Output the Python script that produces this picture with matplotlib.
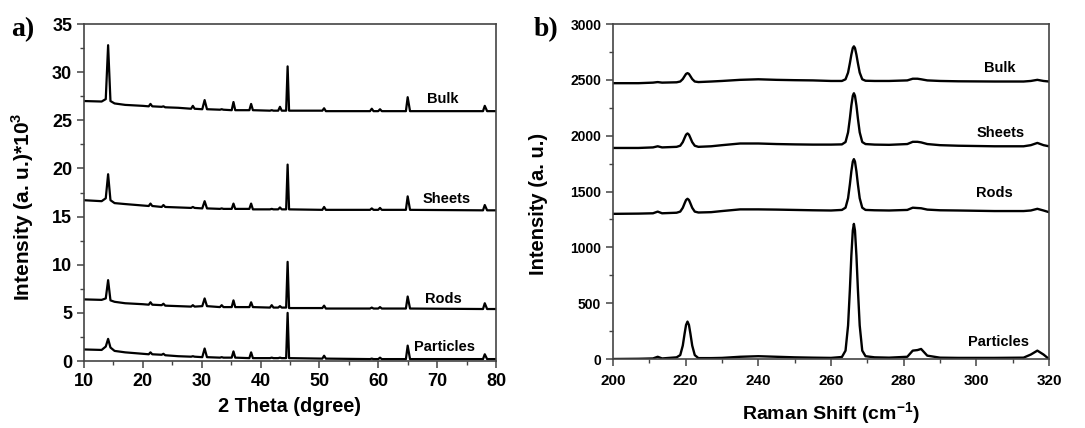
import numpy as np
import matplotlib
matplotlib.use("Agg")
import matplotlib.pyplot as plt
from matplotlib.ticker import MultipleLocator

plt.rcParams['font.family'] = ['Liberation Sans', 'DejaVu Sans']
plt.rcParams['font.weight'] = 'bold'
plt.rcParams['mathtext.fontset'] = 'custom'
plt.rcParams['mathtext.rm'] = 'Liberation Sans:bold'
plt.rcParams['mathtext.bf'] = 'Liberation Sans:bold'

# XRD-Daten (2 Theta, Intensität *10^3)
xrd_x = [10, 13.0, 13.7, 14.1, 14.5, 15.2, 17, 20, 21.0, 21.3, 21.6, 23.2, 23.5, 23.8,
         26, 28.2, 28.5, 28.8, 30.1, 30.5, 30.9, 33.1, 33.4, 33.7, 35.1, 35.4, 35.7,
         38.1, 38.4, 38.7, 41.6, 41.9, 42.2, 43.0, 43.3, 43.6, 44.35, 44.6, 44.85,
         50.5, 50.8, 51.1, 58.6, 58.9, 59.2, 60.0, 60.3, 60.6, 64.7, 65.0, 65.4,
         77.8, 78.1, 78.5, 80]
xrd_bulk = [27.0, 26.95, 27.2, 32.8, 27.0, 26.75, 26.6, 26.5, 26.45, 26.7, 26.45, 26.4, 26.45, 26.35,
            26.3, 26.2, 26.5, 26.2, 26.15, 27.1, 26.15, 26.1, 26.15, 26.1, 26.05, 26.9, 26.05,
            26.05, 26.7, 26.05, 26.0, 26.05, 26.0, 26.0, 26.4, 26.0, 26.0, 30.6, 26.0,
            26.0, 26.25, 25.95, 25.95, 26.2, 25.95, 25.95, 26.15, 25.95, 25.95, 27.4, 25.95,
            25.95, 26.5, 25.95, 25.95]
xrd_sheets = [16.7, 16.6, 16.9, 19.4, 16.7, 16.4, 16.3, 16.15, 16.1, 16.35, 16.1, 16.0, 16.2, 16.0,
              15.95, 15.9, 16.0, 15.9, 15.85, 16.6, 15.85, 15.8, 15.85, 15.8, 15.8, 16.35, 15.8,
              15.8, 16.35, 15.75, 15.75, 15.8, 15.75, 15.75, 15.95, 15.75, 15.75, 20.4, 15.75,
              15.7, 16.0, 15.7, 15.7, 15.85, 15.7, 15.7, 15.9, 15.7, 15.7, 17.1, 15.7,
              15.65, 16.2, 15.65, 15.65]
xrd_rods = [6.4, 6.35, 6.5, 8.4, 6.3, 6.15, 6.0, 5.9, 5.85, 6.1, 5.85, 5.8, 5.95, 5.75,
            5.7, 5.65, 5.8, 5.65, 5.7, 6.5, 5.7, 5.6, 5.8, 5.6, 5.6, 6.3, 5.6,
            5.6, 6.1, 5.6, 5.55, 5.8, 5.55, 5.55, 5.7, 5.55, 5.55, 10.3, 5.5,
            5.5, 5.75, 5.45, 5.45, 5.55, 5.45, 5.45, 5.6, 5.45, 5.45, 6.7, 5.45,
            5.4, 6.0, 5.4, 5.4]
xrd_particles = [1.2, 1.15, 1.5, 2.3, 1.4, 1.05, 0.9, 0.75, 0.7, 0.9, 0.7, 0.65, 0.75, 0.6,
                 0.5, 0.45, 0.5, 0.45, 0.4, 1.3, 0.4, 0.35, 0.4, 0.35, 0.35, 1.0, 0.35,
                 0.3, 0.9, 0.3, 0.3, 0.35, 0.3, 0.3, 0.35, 0.3, 0.3, 5.0, 0.3,
                 0.25, 0.55, 0.25, 0.2, 0.25, 0.2, 0.2, 0.35, 0.2, 0.2, 1.6, 0.2,
                 0.2, 0.7, 0.2, 0.2]

# Raman-Daten (cm^-1, a. u.)
raman_x = [200, 207, 211, 212.3, 213.5, 217.5,
           218.5, 219.2, 219.7, 220.1, 220.5, 220.9, 221.3, 221.8, 222.5, 223.5,
           227, 230, 235, 240, 245, 250, 255, 260,
           263.0, 264.0, 264.7, 265.2, 265.6, 266.0, 266.3, 266.6, 267.0, 267.4, 267.9, 268.6, 269.5,
           272, 276, 281, 282.5, 283.8, 284.8, 286.5, 290, 295, 305, 313, 315, 316.8, 318.5, 320]
raman_bulk = [2470, 2470, 2475, 2480, 2475, 2478,
              2485, 2507, 2533, 2553, 2560, 2553, 2533, 2507, 2485, 2480,
              2485, 2490, 2500, 2505, 2500, 2497, 2495, 2490,
              2490, 2505, 2565, 2650, 2725, 2785, 2800, 2785, 2725, 2650, 2565, 2505, 2492,
              2490, 2490, 2495, 2510, 2510, 2505, 2495, 2490, 2487, 2485, 2485, 2490, 2500, 2490, 2485]
raman_sheets = [1890, 1890, 1895, 1905, 1895, 1900,
                1910, 1942, 1980, 2009, 2020, 2009, 1980, 1942, 1910, 1900,
                1905, 1915, 1930, 1930, 1925, 1922, 1920, 1920,
                1922, 1943, 2030, 2155, 2270, 2357, 2380, 2357, 2270, 2155, 2030, 1943, 1925,
                1920, 1918, 1925, 1945, 1945, 1940, 1925, 1915, 1910, 1905, 1905, 1915, 1935, 1915, 1905]
raman_rods = [1300, 1302, 1305, 1320, 1305, 1310,
              1320, 1354, 1394, 1424, 1435, 1424, 1394, 1354, 1320, 1312,
              1315, 1325, 1340, 1340, 1338, 1335, 1332, 1330,
              1335, 1355, 1440, 1565, 1680, 1768, 1790, 1768, 1680, 1565, 1440, 1355, 1335,
              1332, 1330, 1335, 1355, 1352, 1350, 1338, 1332, 1330, 1325, 1325, 1330, 1345, 1330, 1315]
raman_particles = [0, 2, 5, 20, 5, 15,
                   35, 120, 227, 305, 335, 305, 227, 120, 35, 8,
                   8, 10, 20, 25, 20, 15, 12, 10,
                   18, 75, 300, 625, 925, 1150, 1210, 1150, 925, 625, 300, 75, 25,
                   15, 12, 20, 75, 80, 90, 30, 12, 10, 10, 12, 40, 75, 40, 0]

names = ["Bulk", "Sheets", "Rods", "Particles"]
xrd_label_pos = [(71.0, 27.2), (71.7, 16.8), (71.0, 6.4), (71.3, 1.45)]
raman_label_pos = [(306.5, 2610), (306.8, 2025), (305.1, 1485), (306.2, 150)]

fig = plt.figure(figsize=(10.85, 4.28), dpi=100)
ax1 = fig.add_axes([0.0774, 0.1565, 0.3797, 0.7874])
ax2 = fig.add_axes([0.565, 0.1612, 0.4018, 0.7827])

# a) XRD
for y in [xrd_bulk, xrd_sheets, xrd_rods, xrd_particles]:
    ax1.plot(xrd_x, y, color="black", lw=1.6)
for name, (tx, ty) in zip(names, xrd_label_pos):
    ax1.text(tx, ty, name, ha="center", va="center", fontsize=10.5, fontweight="bold")
ax1.set_xlim(10, 80)
ax1.set_ylim(0, 35)
ax1.xaxis.set_major_locator(MultipleLocator(10))
ax1.xaxis.set_minor_locator(MultipleLocator(5))
ax1.yaxis.set_major_locator(MultipleLocator(5))
ax1.yaxis.set_minor_locator(MultipleLocator(2.5))
ax1.tick_params(labelsize=13)
ax1.set_xlabel("2 Theta (dgree)", fontsize=14.3, fontweight="bold")
ax1.set_ylabel(r"Intensity (a. u.)*10$^{3}$", fontsize=15, fontweight="bold")
ax1.yaxis.set_label_coords(-0.117, 0.457)
ax1.xaxis.set_label_coords(0.5, -0.107)

# b) Raman
for y in [raman_bulk, raman_sheets, raman_rods, raman_particles]:
    ax2.plot(raman_x, y, color="black", lw=1.7)
for name, (tx, ty) in zip(names, raman_label_pos):
    ax2.text(tx, ty, name, ha="center", va="center", fontsize=10.5, fontweight="bold")
ax2.set_xlim(200, 320)
ax2.set_ylim(0, 3000)
ax2.xaxis.set_major_locator(MultipleLocator(20))
ax2.xaxis.set_minor_locator(MultipleLocator(10))
ax2.yaxis.set_major_locator(MultipleLocator(500))
ax2.yaxis.set_minor_locator(MultipleLocator(250))
ax2.tick_params(labelsize=10)
ax2.tick_params(axis="x", labelsize=11, pad=6)
ax2.set_xlabel(r"Raman Shift (cm$^{-1}$)", fontsize=14, fontweight="bold")
ax2.set_ylabel("Intensity (a. u.)", fontsize=14.5, fontweight="bold")
ax2.yaxis.set_label_coords(-0.149, 0.463)
ax2.xaxis.set_label_coords(0.5, -0.125)

for ax in [ax1, ax2]:
    for s in ax.spines.values():
        s.set_color("#444444")
        s.set_linewidth(1.2)
    ax.tick_params(which="major", direction="out", length=5, width=1.1, color="#444444")
    ax.tick_params(which="minor", direction="out", length=3, width=1.0, color="#444444")

fig.text(0.021, 0.93, "a)", fontsize=20, fontweight="bold", family="Liberation Serif",
         ha="center", va="center")
fig.text(0.503, 0.93, "b)", fontsize=20, fontweight="bold", family="Liberation Serif",
         ha="center", va="center")

fig.savefig("out.png", dpi=100)
